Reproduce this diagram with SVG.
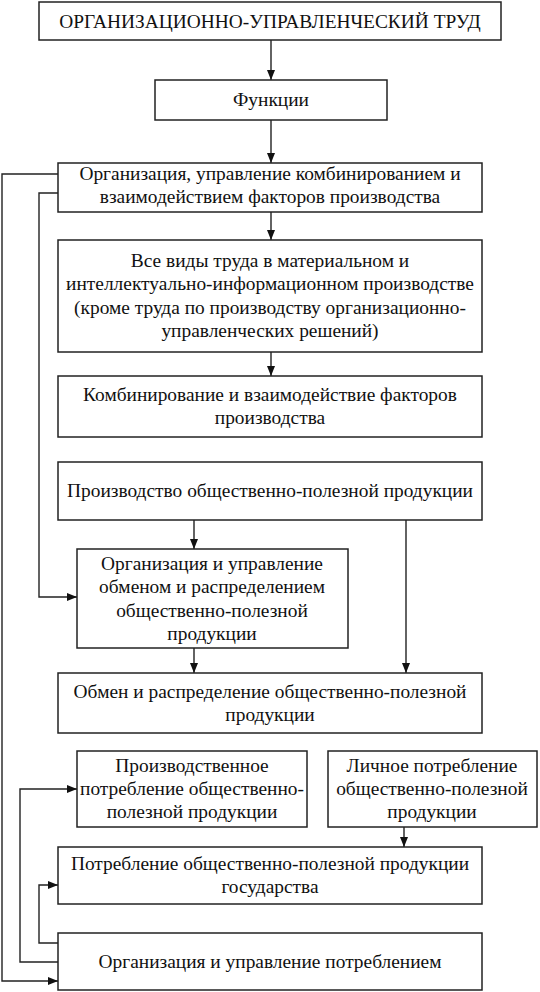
<svg xmlns="http://www.w3.org/2000/svg" width="540" height="992" viewBox="0 0 540 992">
<style>
.box{fill:#fff;stroke:#222;stroke-width:1.5}
.t{font-family:"Liberation Serif","Times New Roman",serif;font-size:19.4px;fill:#111;text-anchor:middle}
.c{fill:none;stroke:#222;stroke-width:1.4}
</style>
<defs>
<marker id="ah" viewBox="0 0 10 8" refX="10" refY="4" markerWidth="10" markerHeight="8" markerUnits="userSpaceOnUse" orient="auto">
<path d="M0,0 L10,4 L0,8 Z" fill="#111"/>
</marker>
</defs>
<rect width="540" height="992" fill="#fff"/>
<g id="connectors">
<line class="c" x1="271" y1="40" x2="271" y2="80" marker-end="url(#ah)"/>
<line class="c" x1="271" y1="120" x2="271" y2="163" marker-end="url(#ah)"/>
<line class="c" x1="271" y1="212" x2="271" y2="240" marker-end="url(#ah)"/>
<line class="c" x1="271" y1="352" x2="271" y2="376" marker-end="url(#ah)"/>
<line class="c" x1="194" y1="520" x2="194" y2="549" marker-end="url(#ah)"/>
<line class="c" x1="406" y1="520" x2="406" y2="673" marker-end="url(#ah)"/>
<line class="c" x1="194" y1="648" x2="194" y2="673" marker-end="url(#ah)"/>
<line class="c" x1="404" y1="827" x2="404" y2="847" marker-end="url(#ah)"/>
<polyline class="c" points="58,174 2,174 2,981 58,981" marker-end="url(#ah)"/>
<polyline class="c" points="58,193 39,193 39,597 77,597" marker-end="url(#ah)"/>
<polyline class="c" points="58,943 39,943 39,885 58,885" marker-end="url(#ah)"/>
<polyline class="c" points="58,962 20,962 20,789 77,789" marker-end="url(#ah)"/>
</g>
<g id="n1"><rect class="box" x="39" y="2" width="462" height="38"/><text class="t" x="270" y="28">ОРГАНИЗАЦИОННО-УПРАВЛЕНЧЕСКИЙ ТРУД</text></g>
<g id="n2"><rect class="box" x="155" y="80" width="232" height="40"/><text class="t" x="271" y="106">Функции</text></g>
<g id="n3"><rect class="box" x="58" y="163" width="424" height="49"/><text class="t" x="270" y="180">Организация, управление комбинированием и</text><text class="t" x="270" y="203">взаимодействием факторов производства</text></g>
<g id="n4"><rect class="box" x="58" y="240" width="424" height="112"/><text class="t" x="270" y="267">Все виды труда в материальном и</text><text class="t" x="270" y="290">интеллектуально-информационном производстве</text><text class="t" x="270" y="314">(кроме труда по производству организационно-</text><text class="t" x="270" y="337">управленческих решений)</text></g>
<g id="n5"><rect class="box" x="58" y="376" width="424" height="61"/><text class="t" x="270" y="401">Комбинирование и взаимодействие факторов</text><text class="t" x="270" y="424">производства</text></g>
<g id="n6"><rect class="box" x="58" y="462" width="424" height="58"/><text class="t" x="270" y="497">Производство общественно-полезной продукции</text></g>
<g id="n7"><rect class="box" x="77" y="549" width="271" height="99"/><text class="t" x="212" y="570">Организация и управление</text><text class="t" x="212" y="593">обменом и распределением</text><text class="t" x="212" y="617">общественно-полезной</text><text class="t" x="212" y="640">продукции</text></g>
<g id="n8"><rect class="box" x="58" y="673" width="424" height="60"/><text class="t" x="270" y="698">Обмен и распределение общественно-полезной</text><text class="t" x="270" y="721">продукции</text></g>
<g id="n9"><rect class="box" x="77" y="751" width="230" height="76"/><text class="t" x="192" y="772">Производственное</text><text class="t" x="192" y="795">потребление общественно-</text><text class="t" x="192" y="818">полезной продукции</text></g>
<g id="n10"><rect class="box" x="328" y="751" width="209" height="76"/><text class="t" x="432" y="772">Личное потребление</text><text class="t" x="432" y="795">общественно-полезной</text><text class="t" x="432" y="818">продукции</text></g>
<g id="n11"><rect class="box" x="58" y="847" width="424" height="57"/><text class="t" x="270" y="870">Потребление общественно-полезной продукции</text><text class="t" x="270" y="893">государства</text></g>
<g id="n12"><rect class="box" x="58" y="933" width="424" height="57"/><text class="t" x="270" y="968">Организация и управление потреблением</text></g>
</svg>
